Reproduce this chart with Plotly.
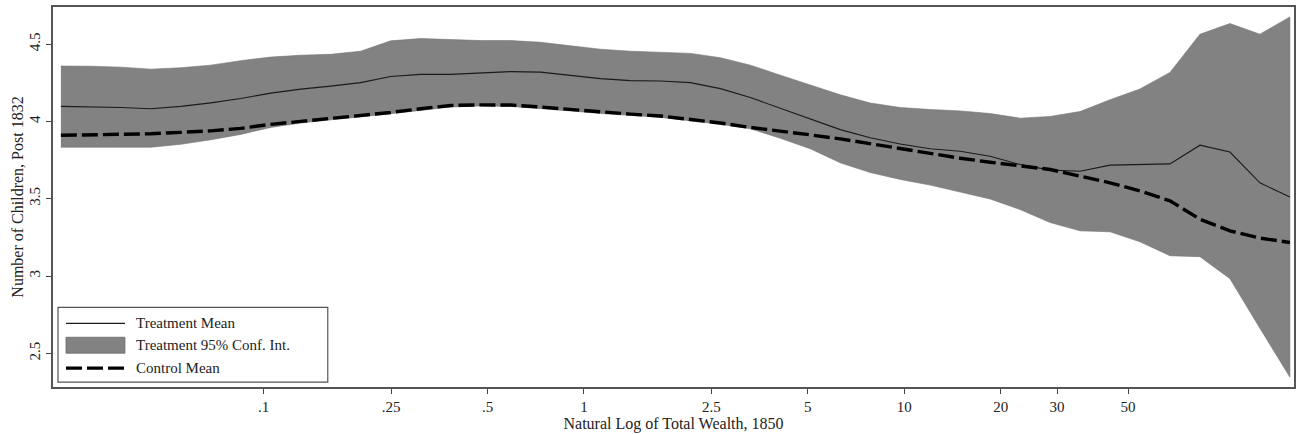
import plotly.graph_objects as go

wealth = [0.02326, 0.02885, 0.03579, 0.04441, 0.05508, 0.06834, 0.08477, 0.1052,
          0.1305, 0.1618, 0.2007, 0.2490, 0.3089, 0.3833, 0.4753, 0.5897,
          0.7314, 0.9074, 1.1256, 1.3964, 1.7322, 2.149, 2.666, 3.307,
          4.102, 5.089, 6.313, 7.831, 9.714, 12.05, 14.95, 18.54,
          23.00, 28.54, 35.40, 43.91, 54.48, 67.58, 83.83, 104.0, 129.0, 160.0]

ci_upper = [4.358, 4.357, 4.351, 4.338, 4.347, 4.364, 4.393, 4.416, 4.428, 4.434,
            4.454, 4.521, 4.536, 4.531, 4.523, 4.523, 4.512, 4.489, 4.467, 4.454,
            4.447, 4.440, 4.412, 4.364, 4.299, 4.238, 4.172, 4.119, 4.090, 4.077,
            4.068, 4.051, 4.021, 4.032, 4.064, 4.140, 4.210, 4.317, 4.564, 4.633,
            4.564, 4.676]

ci_lower = [3.833, 3.833, 3.833, 3.833, 3.852, 3.881, 3.916, 3.961, 3.990, 4.010,
            4.029, 4.048, 4.071, 4.093, 4.100, 4.097, 4.084, 4.068, 4.051, 4.039,
            4.026, 4.003, 3.981, 3.952, 3.891, 3.823, 3.732, 3.669, 3.625, 3.588,
            3.543, 3.498, 3.430, 3.346, 3.292, 3.286, 3.221, 3.131, 3.125, 2.983,
            2.662, 2.346]

treat_mean = [4.097, 4.095, 4.090, 4.082, 4.097, 4.120, 4.148, 4.183, 4.209, 4.228,
              4.251, 4.290, 4.304, 4.304, 4.312, 4.322, 4.319, 4.299, 4.277, 4.264,
              4.261, 4.251, 4.212, 4.154, 4.084, 4.013, 3.947, 3.894, 3.854, 3.823,
              3.807, 3.775, 3.721, 3.685, 3.678, 3.717, 3.721, 3.725, 3.846, 3.802,
              3.603, 3.511]

control_mean = [3.910, 3.913, 3.916, 3.920, 3.929, 3.939, 3.955, 3.981, 4.000, 4.019,
                4.039, 4.058, 4.082, 4.103, 4.107, 4.106, 4.093, 4.077, 4.061, 4.047,
                4.035, 4.013, 3.990, 3.961, 3.939, 3.913, 3.887, 3.855, 3.823, 3.794,
                3.762, 3.736, 3.714, 3.689, 3.646, 3.603, 3.550, 3.486, 3.367, 3.292,
                3.245, 3.217]

x_tickvals = [0.1, 0.25, 0.5, 1, 2.5, 5, 10, 20, 30, 50]
x_ticktext = [".1", ".25", ".5", "1", "2.5", "5", "10", "20", "30", "50"]
y_tickvals = [2.5, 3, 3.5, 4, 4.5]
y_ticktext = ["2.5", "3", "3.5", "4", "4.5"]

legend_labels = ["Treatment Mean", "Treatment 95% Conf. Int.", "Control Mean"]

font_family = "Liberation Serif, Times New Roman, serif"
BAND = "#828282"
DASH = "16px,5px"

fig = go.Figure()

fig.add_trace(go.Scatter(
    x=wealth + wealth[::-1],
    y=ci_upper + ci_lower[::-1],
    fill="toself", fillcolor=BAND,
    line=dict(color="#727272", width=0.6),
    mode="lines", name=legend_labels[1],
    showlegend=False, hoverinfo="skip",
))

fig.add_trace(go.Scatter(
    x=wealth, y=treat_mean, mode="lines",
    line=dict(color="#1a1a1a", width=1.1),
    name=legend_labels[0], showlegend=False,
))

fig.add_trace(go.Scatter(
    x=wealth, y=control_mean, mode="lines",
    line=dict(color="#000000", width=3.4, dash=DASH),
    name=legend_labels[2], showlegend=False,
))

# ---- legend box drawn in paper coordinates (Stata-style legend) ----
W, H = 1242.0, 382.0   # plot area in px
def px(x): return (x - 53) / W
def py(y): return (387 - y) / H

shapes = [
    dict(type="rect", xref="paper", yref="paper",
         x0=px(58), x1=px(328), y0=py(382), y1=py(307),
         line=dict(color="#555555", width=1.2), fillcolor="white", layer="above"),
    dict(type="line", xref="paper", yref="paper",
         x0=px(66), x1=px(125), y0=py(323), y1=py(323),
         line=dict(color="#1a1a1a", width=1.1), layer="above"),
    dict(type="rect", xref="paper", yref="paper",
         x0=px(66), x1=px(125), y0=py(353), y1=py(337),
         line=dict(color="#6a6a6a", width=0.8), fillcolor=BAND, layer="above"),
    dict(type="line", xref="paper", yref="paper",
         x0=px(66), x1=px(125), y0=py(368), y1=py(368),
         line=dict(color="#000000", width=3.4, dash=DASH), layer="above"),
]
annotations = []
for lab, yy in zip(legend_labels, [323, 345, 368]):
    annotations.append(dict(
        xref="paper", yref="paper", x=px(134), y=py(yy),
        xanchor="left", yanchor="middle", showarrow=False,
        text=lab, font=dict(family=font_family, size=15, color="#222222")))

fig.update_layout(
    width=1301, height=434,
    margin=dict(l=53, r=6, t=5, b=47),
    paper_bgcolor="white", plot_bgcolor="white",
    font=dict(family=font_family, size=15, color="#222222"),
    showlegend=False,
    shapes=shapes, annotations=annotations,
)

fig.update_xaxes(
    type="log", range=[-1.658, 2.217],
    tickvals=x_tickvals, ticktext=x_ticktext,
    ticks="outside", ticklen=5, tickcolor="#444444", tickwidth=1,
    tickfont=dict(size=15),
    showline=True, linecolor="#555555", linewidth=1.5, mirror=True,
    showgrid=False, zeroline=False,
    title=dict(text="Natural Log of Total Wealth, 1850", standoff=0,
               font=dict(family=font_family, size=16)),
)

fig.update_yaxes(
    range=[2.282, 4.740],
    tickvals=y_tickvals, ticktext=y_ticktext, tickangle=-90,
    ticks="outside", ticklen=5, tickcolor="#444444", tickwidth=1,
    tickfont=dict(size=15),
    showline=True, linecolor="#555555", linewidth=1.5, mirror=True,
    showgrid=False, zeroline=False,
    title=dict(text="Number of Children, Post 1832", standoff=0,
               font=dict(family=font_family, size=16)),
)

fig.write_html("out.html", config={"displayModeBar": False},
               post_script="document.body.style.margin='0px';")
